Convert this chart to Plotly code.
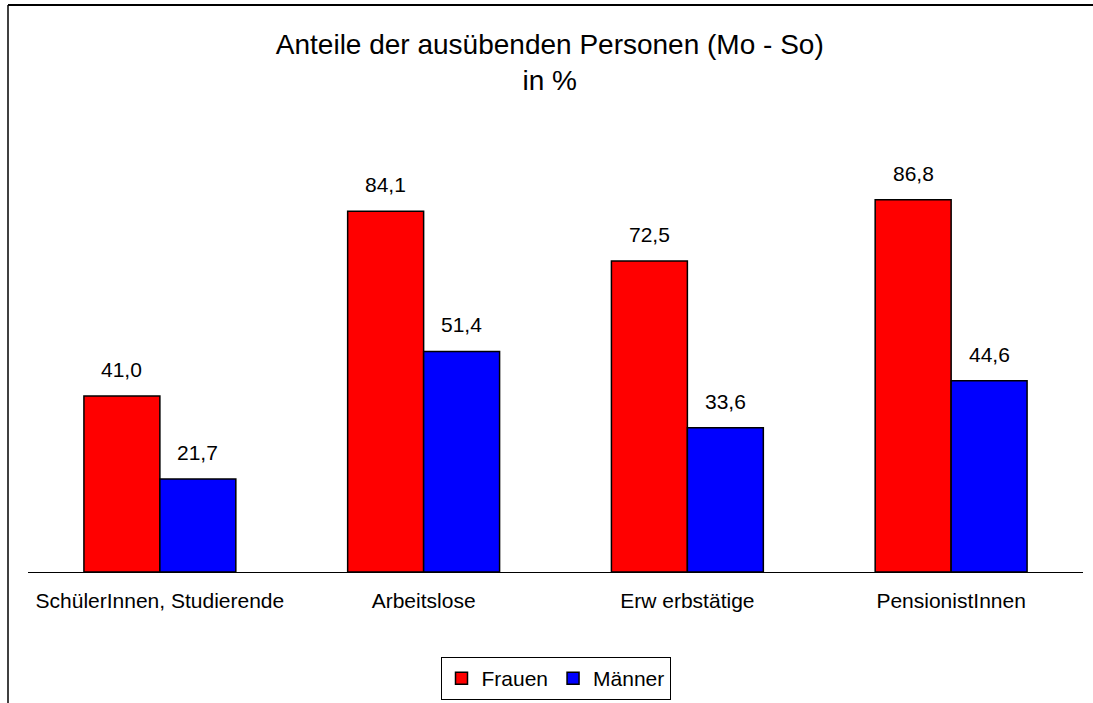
import plotly.graph_objects as go

categories = ["SchülerInnen, Studierende", "Arbeitslose", "Erw erbstätige", "PensionistInnen"]
frauen = [41.0, 84.1, 72.5, 86.8]
maenner = [21.7, 51.4, 33.6, 44.6]
series_names = ["Frauen", "Männer"]
colors = ["#FF0000", "#0000FF"]

FONT = "Liberation Sans, Arial, sans-serif"
W, H = 1093, 703
ML, MR, MT, MB = 28, 10, 143, 131
bar_w = 0.288

xs = list(range(len(categories)))

def fmt(v):
    return f"{v:.1f}".replace(".", ",")

fig = go.Figure()
for name, vals, col, off in [(series_names[0], frauen, colors[0], -bar_w),
                             (series_names[1], maenner, colors[1], 0.0)]:
    fig.add_trace(go.Bar(
        x=xs, y=vals, name=name, width=bar_w, offset=off,
        marker=dict(color=col, line=dict(color="black", width=1.5)),
        hoverinfo="skip",
    ))
    for xi, v in zip(xs, vals):
        fig.add_annotation(x=xi + off + bar_w / 2, y=v, xref="x", yref="y",
                           text=fmt(v), showarrow=False, yanchor="bottom",
                           yshift=13, font=dict(family=FONT, size=21, color="black"))

pw = W - ML - MR
ph = H - MT - MB
def px_x(p):
    return (p - ML) / pw
def px_y(p):
    return (H - MB - p) / ph

fig.add_shape(type="line", xref="paper", yref="paper",
              x0=px_x(8), x1=px_x(8), y0=px_y(5), y1=px_y(703),
              line=dict(color="black", width=1.5))
fig.add_shape(type="line", xref="paper", yref="paper",
              x0=px_x(8), x1=px_x(1093), y0=px_y(5), y1=px_y(5),
              line=dict(color="black", width=2))

fig.update_layout(
    width=W, height=H,
    margin=dict(l=ML, r=MR, t=MT, b=MB, autoexpand=False),
    paper_bgcolor="white", plot_bgcolor="white",
    font=dict(family=FONT, size=21, color="black"),
    title=dict(text="Anteile der ausübenden Personen (Mo - So)<br>in %",
               x=0.503, xref="container", xanchor="center",
               y=1 - 54 / H, yref="container", yanchor="top",
               font=dict(family=FONT, size=28, color="black")),
    barmode="overlay",
    showlegend=True,
    legend=dict(orientation="h", x=0.5, xanchor="center", y=px_y(657), yanchor="top",
                bordercolor="black", borderwidth=1, bgcolor="white",
                font=dict(family=FONT, size=21, color="black")),
    xaxis=dict(range=[-0.5, 3.5], tickvals=xs, ticktext=categories,
               showline=True, linecolor="black", linewidth=1,
               showgrid=False, zeroline=False, ticks="", fixedrange=True,
               ticklabelstandoff=10,
               tickfont=dict(family=FONT, size=21, color="black")),
    yaxis=dict(range=[0, 100], visible=False, showgrid=False, zeroline=False,
               fixedrange=True),
)

fig.write_html("out.html", config={"displayModeBar": False, "staticPlot": True},
               post_script="document.body.style.margin='0';")
